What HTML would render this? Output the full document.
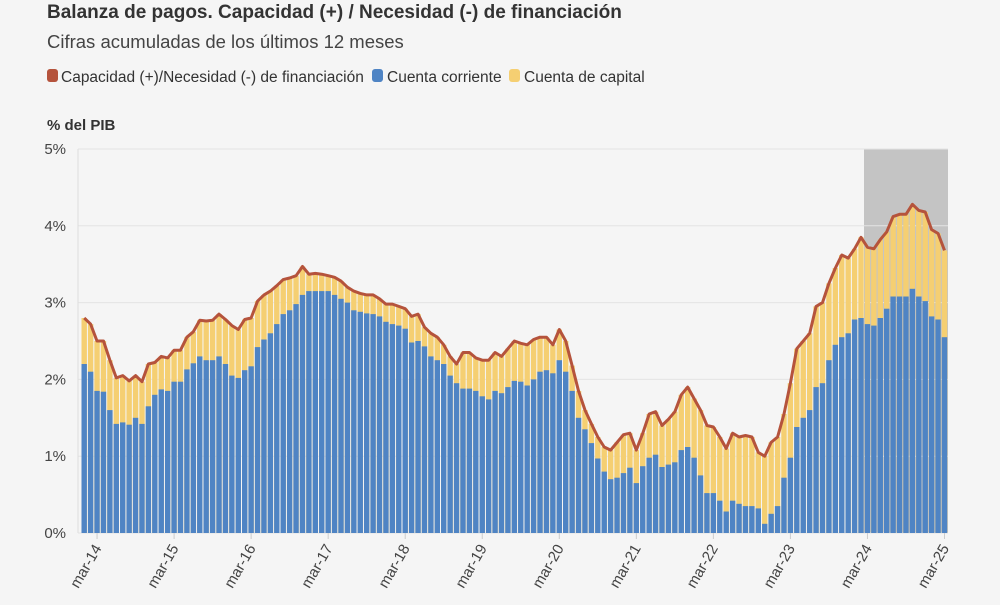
<!DOCTYPE html><html><head><meta charset="utf-8"><style>
body{margin:0;width:1000px;height:600px;overflow:hidden;background:#f5f5f5;font-family:"Liberation Sans",sans-serif}
</style></head><body>
<svg id="s" width="1000" height="600" xmlns="http://www.w3.org/2000/svg" font-family="Liberation Sans, sans-serif">
<rect width="1000" height="600" fill="#f5f5f5"/>
<text x="47" y="18" font-size="19" font-weight="bold" fill="#333">Balanza de pagos. Capacidad (+) / Necesidad (-) de financiación</text>
<text x="47" y="48" font-size="18.5" fill="#444">Cifras acumuladas de los últimos 12 meses</text>
<rect x="47" y="69" width="11" height="13" rx="3" fill="#b5533c"/><text x="61" y="82" font-size="15.5" fill="#333">Capacidad (+)/Necesidad (-) de financiación</text>
<rect x="372" y="69" width="11" height="13" rx="3" fill="#4f84c4"/><text x="387" y="82" font-size="15.5" fill="#333">Cuenta corriente</text>
<rect x="509" y="69" width="11" height="13" rx="3" fill="#f5cf72"/><text x="524" y="82" font-size="15.5" fill="#333">Cuenta de capital</text>
<text x="47" y="130" font-size="15" font-weight="bold" fill="#333">% del PIB</text>
<g id="g"></g>
</svg>
<script>
var B=[2.2,2.1,1.85,1.84,1.6,1.42,1.44,1.41,1.5,1.42,1.65,1.8,
1.87,1.85,1.97,1.97,2.13,2.21,2.3,2.25,2.25,2.3,2.2,2.05,
2.02,2.12,2.17,2.42,2.52,2.6,2.72,2.85,2.9,2.98,3.1,3.15,
3.15,3.15,3.15,3.1,3.05,3.0,2.9,2.88,2.86,2.85,2.82,2.75,
2.72,2.7,2.66,2.48,2.5,2.43,2.3,2.25,2.2,2.05,1.95,1.88,
1.88,1.85,1.78,1.74,1.85,1.82,1.9,1.98,1.97,1.92,2.0,2.1,
2.12,2.08,2.25,2.1,1.85,1.5,1.35,1.17,0.97,0.8,0.7,0.72,
0.78,0.85,0.65,0.87,0.98,1.02,0.86,0.89,0.92,1.08,1.12,0.98,
0.75,0.52,0.52,0.42,0.28,0.42,0.38,0.35,0.35,0.32,0.12,0.25,
0.35,0.72,0.98,1.38,1.5,1.6,1.9,1.95,2.25,2.45,2.55,2.6,
2.78,2.8,2.72,2.7,2.8,2.92,3.08,3.08,3.08,3.18,3.08,3.02,
2.82,2.78,2.55];
var T=[2.8,2.72,2.5,2.5,2.25,2.02,2.05,1.98,2.05,1.97,2.2,2.22,
2.3,2.28,2.38,2.38,2.55,2.62,2.77,2.76,2.77,2.85,2.78,2.7,
2.65,2.78,2.8,3.02,3.1,3.15,3.22,3.3,3.32,3.35,3.47,3.37,
3.38,3.37,3.35,3.33,3.28,3.2,3.15,3.12,3.1,3.1,3.05,2.98,
2.98,2.95,2.92,2.82,2.85,2.68,2.6,2.55,2.45,2.3,2.2,2.35,
2.35,2.28,2.25,2.25,2.35,2.3,2.4,2.5,2.47,2.45,2.52,2.55,
2.55,2.45,2.65,2.5,2.18,1.85,1.6,1.42,1.25,1.12,1.08,1.18,
1.28,1.3,1.08,1.3,1.55,1.58,1.4,1.48,1.58,1.8,1.9,1.75,
1.6,1.4,1.38,1.25,1.1,1.3,1.25,1.27,1.25,1.05,1.0,1.18,
1.25,1.55,1.95,2.4,2.5,2.6,2.95,3.0,3.25,3.45,3.62,3.58,
3.7,3.85,3.72,3.7,3.82,3.92,4.12,4.15,4.15,4.28,4.2,4.18,
3.95,3.9,3.68];
var y0=533,k=76.8,x0=81,w=6.42,h='';
h+='<rect x="864" y="149" width="84" height="384" fill="#c4c4c4"/>';
for(var i=0;i<=5;i++){var y=y0-i*k;h+='<line x1="78" x2="948" y1="'+y+'" y2="'+y+'" stroke="#e4e4e4"/><text x="66" y="'+(y+5)+'" font-size="15" fill="#444" text-anchor="end">'+i+'%</text>';}
h+='<line x1="78" x2="78" y1="149" y2="533" stroke="#ddd"/>';
var p='';
for(var i=0;i<B.length;i++){var x=x0+i*w;h+='<rect x="'+(x+0.5).toFixed(2)+'" y="'+(y0-T[i]*k).toFixed(1)+'" width="5.4" height="'+(T[i]*k).toFixed(1)+'" fill="#f5cf72"/>';
h+='<rect x="'+(x+0.5).toFixed(2)+'" y="'+(y0-B[i]*k).toFixed(1)+'" width="5.4" height="'+(B[i]*k).toFixed(1)+'" fill="#4f84c4"/>';
p+=(i?'L':'M')+(x+w/2).toFixed(1)+' '+(y0-T[i]*k).toFixed(1);}
h+='<path d="'+p+'" fill="none" stroke="#b5533c" stroke-width="3" stroke-linejoin="round"/>';
for(var yr=14;yr<=25;yr++){var i=(yr-14)*12+2,x=x0+(i+0.5)*w;h+='<line x1="'+x+'" x2="'+x+'" y1="533" y2="539" stroke="#ccc"/><text transform="translate('+(x+5)+',548) rotate(-60)" font-size="15" fill="#444" text-anchor="end">mar-'+yr+'</text>';}
document.getElementById('g').innerHTML=h;
</script>
</body></html>
